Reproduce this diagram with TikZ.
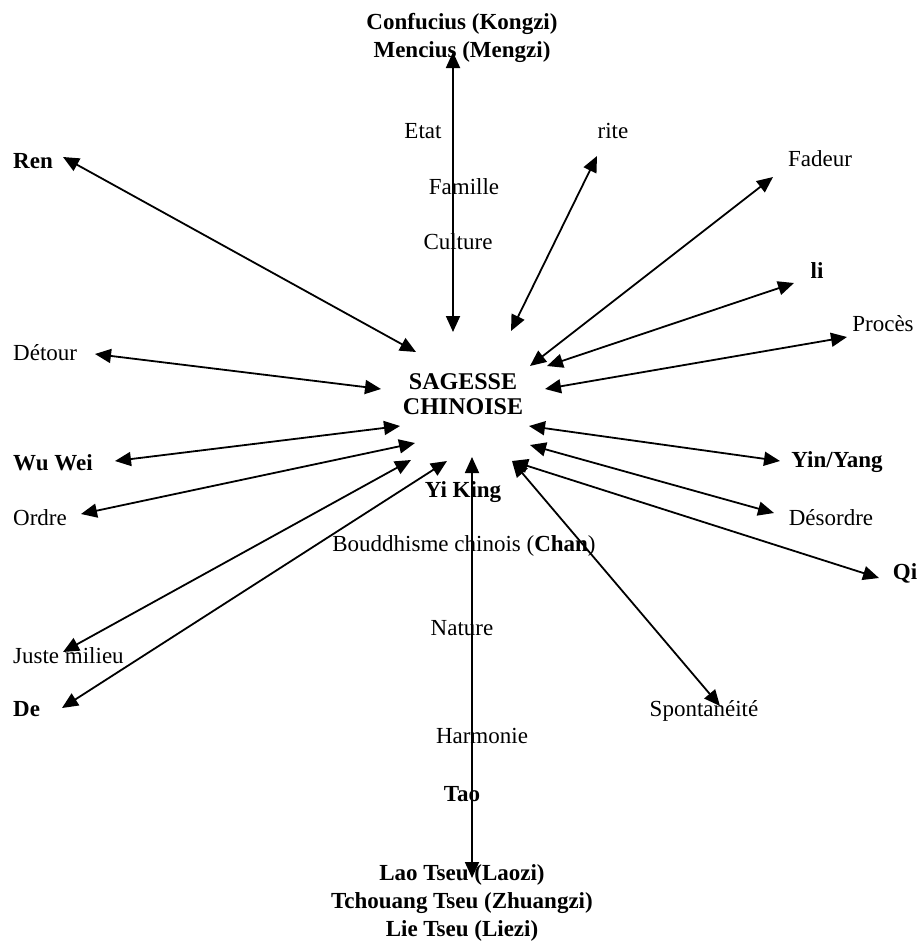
\documentclass[tikz,border=0pt]{standalone}
\usepackage{fontspec}
\setmainfont{Liberation Serif}
\usepackage{tikz}
\usetikzlibrary{arrows.meta}

\begin{document}
\begin{tikzpicture}[
  x=1pt, y=-1pt,
  term/.style={font=\fontsize{23}{28}\selectfont, inner sep=0pt, text height=0.7em, text depth=0.2em, yshift=-5.5pt},
  keyterm/.style={font=\fontsize{23}{28}\selectfont\bfseries, inner sep=0pt, align=center, yshift=-2pt},
  link/.style={{Triangle[length=16pt,width=14pt]}-{Triangle[length=16pt,width=14pt]}, line width=1.8pt, black}
]
\useasboundingbox (0,0) rectangle (919,945);

% Centre
\node[keyterm, font=\fontsize{24}{25.5}\selectfont\bfseries] (sagesse) at (463,392) {SAGESSE\\CHINOISE};

% Confucianism (top)
\node[keyterm] (confucius) at (462,36) {Confucius (Kongzi)\\Mencius (Mengzi)};
\node[term] (etat) at (423,130) {Etat};
\node[term] (famille) at (464,186) {Famille};
\node[term] (culture) at (458,241) {Culture};
\node[term] (rite) at (613,130) {rite};

% Left side
\node[keyterm, anchor=west] (ren) at (13,159) {Ren};
\node[term, anchor=west] (detour) at (13,352) {Détour};
\node[keyterm, anchor=west] (wuwei) at (13,461) {Wu Wei};
\node[term, anchor=west] (ordre) at (13,517) {Ordre};
\node[term, anchor=west] (juste) at (13,655) {Juste milieu};
\node[keyterm, anchor=west] (de) at (13,707) {De};

% Right side
\node[term] (fadeur) at (820,158) {Fadeur};
\node[keyterm] (li) at (817,269) {li};
\node[term] (proces) at (883,323) {Procès};
\node[keyterm] (yinyang) at (837,460) {Yin/Yang};
\node[term] (desordre) at (831,517) {Désordre};
\node[keyterm] (qi) at (905,571) {Qi};
\node[term] (spontaneite) at (704,708) {Spontanéité};

% Taoism (bottom)
\node[keyterm] (yiking) at (463,490) {Yi King};
\node[term] (chan) at (464,543) {Bouddhisme chinois (\textbf{Chan})};
\node[term] (nature) at (462,627) {Nature};
\node[term] (harmonie) at (482,735) {Harmonie};
\node[keyterm] (tao) at (462,792) {Tao};
\node[keyterm] (laozi) at (462,901) {Lao Tseu (Laozi)\\Tchouang Tseu (Zhuangzi)\\Lie Tseu (Liezi)};

% Arrow ends round the centre
\coordinate (c-top) at (453,332);
\coordinate (c-ren) at (416,352);
\coordinate (c-detour) at (381,389);
\coordinate (c-wuwei) at (400,426);
\coordinate (c-ordre) at (415,443);
\coordinate (c-juste) at (411,460);
\coordinate (c-de) at (447,461);
\coordinate (c-bottom) at (472,457);
\coordinate (c-qi) at (512,461);
\coordinate (c-desordre) at (530,445);
\coordinate (c-yinyang) at (529,426);
\coordinate (c-proces) at (545,389);
\coordinate (c-li) at (547,366);
\coordinate (c-fadeur) at (530,366);
\coordinate (c-rite) at (511,331);

% Outer arrow ends
\coordinate (o-top) at (453,52);
\coordinate (o-ren) at (63,157);
\coordinate (o-detour) at (95,354);
\coordinate (o-wuwei) at (115,461);
\coordinate (o-ordre) at (81,514);
\coordinate (o-juste) at (63,652);
\coordinate (o-de) at (62,708);
\coordinate (o-bottom) at (472,878);
\coordinate (o-spont) at (720,706);
\coordinate (o-qi) at (879,578);
\coordinate (o-desordre) at (774,513);
\coordinate (o-yinyang) at (780,461);
\coordinate (o-proces) at (847,337);
\coordinate (o-li) at (794,283);
\coordinate (o-fadeur) at (773,177);
\coordinate (o-rite) at (597,156);

% Links
\draw[link] (o-top) -- (c-top);
\draw[link] (o-ren) -- (c-ren);
\draw[link] (o-detour) -- (c-detour);
\draw[link] (o-wuwei) -- (c-wuwei);
\draw[link] (o-ordre) -- (c-ordre);
\draw[link] (o-juste) -- (c-juste);
\draw[link] (o-de) -- (c-de);
\draw[link] (o-bottom) -- (c-bottom);
\draw[link] (o-spont) -- (c-qi);
\draw[link] (o-qi) -- (c-qi);
\draw[link] (o-desordre) -- (c-desordre);
\draw[link] (o-yinyang) -- (c-yinyang);
\draw[link] (o-proces) -- (c-proces);
\draw[link] (o-li) -- (c-li);
\draw[link] (o-fadeur) -- (c-fadeur);
\draw[link] (o-rite) -- (c-rite);

\end{tikzpicture}
\end{document}
